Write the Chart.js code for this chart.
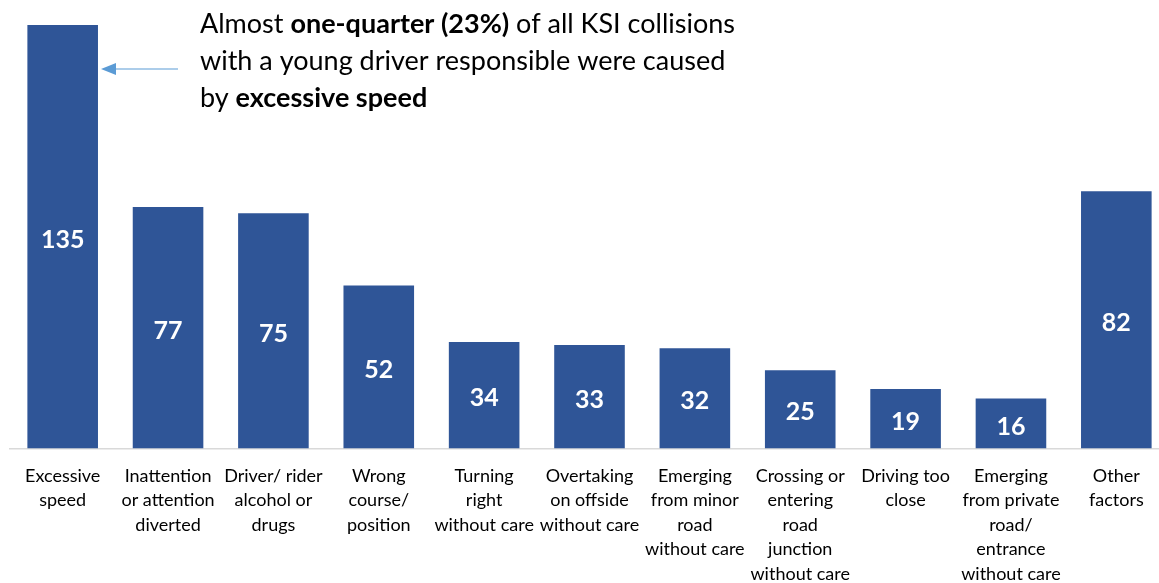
<!DOCTYPE html>
<html>
<head>
<meta charset="utf-8">
<script src="https://cdn.jsdelivr.net/npm/chart.js@4.4.1/dist/chart.umd.min.js"></script>
<style>
  html, body { margin: 0; padding: 0; background: #fff; overflow: hidden; }
  #wrap { width: 1170px; height: 593px; position: relative; }
</style>
</head>
<body>
<div id="wrap"><canvas id="chart"></canvas></div>
<script>
// Contributory factors for KSI collisions with a young driver responsible
const categories = [
  ['Excessive', 'speed'],
  ['Inattention', 'or attention', 'diverted'],
  ['Driver/ rider', 'alcohol or', 'drugs'],
  ['Wrong', 'course/', 'position'],
  ['Turning', 'right', 'without care'],
  ['Overtaking', 'on offside', 'without care'],
  ['Emerging', 'from minor', 'road', 'without care'],
  ['Crossing or', 'entering', 'road', 'junction', 'without care'],
  ['Driving too', 'close'],
  ['Emerging', 'from private', 'road/', 'entrance', 'without care'],
  ['Other', 'factors']
];
const collisions = [135, 77, 75, 52, 34, 33, 32, 25, 19, 16, 82];

const FONT = 'Lato, "Open Sans", sans-serif';
const BAR_COLOR = '#2f5597';

// white value labels centred inside each bar
const valueLabels = {
  id: 'valueLabels',
  afterDatasetsDraw(chart) {
    const ctx = chart.ctx;
    const meta = chart.getDatasetMeta(0);
    ctx.save();
    ctx.fillStyle = '#ffffff';
    ctx.font = 'bold 25px ' + FONT;
    ctx.textAlign = 'center';
    ctx.textBaseline = 'middle';
    meta.data.forEach((bar, i) => {
      const yMid = (bar.y + bar.base) / 2;
      ctx.fillText(String(collisions[i]), bar.x, yMid + 3);
    });
    ctx.restore();
  }
};

// callout text with arrow pointing at the tallest bar
const callout = {
  id: 'callout',
  afterDraw(chart) {
    const ctx = chart.ctx;
    const meta = chart.getDatasetMeta(0);
    const first = meta.data[0];
    const lines = [
      [['Almost ', false], ['one-quarter (23%)', true], [' of all KSI collisions', false]],
      [['with a young driver responsible were caused', false]],
      [['by ', false], ['excessive speed', true]]
    ];
    const x0 = 200, y0 = 24, lh = 37, size = 27;
    ctx.save();
    ctx.fillStyle = '#000000';
    ctx.textBaseline = 'middle';
    ctx.textAlign = 'left';
    lines.forEach((parts, li) => {
      let x = x0;
      parts.forEach(([txt, bold]) => {
        ctx.font = (bold ? 'bold ' : '') + size + 'px ' + FONT;
        ctx.fillText(txt, x, y0 + li * lh);
        x += ctx.measureText(txt).width;
      });
    });
    // arrow
    const tipX = first.x + first.width / 2 + 3;
    const ay = 69;
    ctx.strokeStyle = '#5b9bd5';
    ctx.fillStyle = '#5b9bd5';
    ctx.lineWidth = 1.2;
    ctx.beginPath();
    ctx.moveTo(178, ay);
    ctx.lineTo(tipX + 12, ay);
    ctx.stroke();
    ctx.beginPath();
    ctx.moveTo(tipX, ay);
    ctx.lineTo(tipX + 15, ay - 6);
    ctx.lineTo(tipX + 15, ay + 6);
    ctx.closePath();
    ctx.fill();
    ctx.restore();
  }
};

new Chart(document.getElementById('chart'), {
  type: 'bar',
  data: {
    labels: categories,
    datasets: [{
      data: collisions,
      backgroundColor: BAR_COLOR,
      borderWidth: 0,
      barPercentage: 0.67,
      categoryPercentage: 1.0
    }]
  },
  options: {
    responsive: true,
    maintainAspectRatio: false,
    animation: false,
    layout: { padding: { left: 10, right: 1, top: 0, bottom: 0 } },
    plugins: { legend: { display: false }, tooltip: { enabled: false } },
    scales: {
      x: {
        grid: { display: false },
        border: { display: true, color: '#d9d9d9', width: 1.5 },
        ticks: {
          color: '#000000',
          font: { family: FONT, size: 18, lineHeight: 1.36 },
          maxRotation: 0,
          minRotation: 0,
          autoSkip: false,
          padding: 7
        }
      },
      y: {
        display: false,
        min: 0,
        max: 143
      }
    }
  },
  plugins: [valueLabels, callout]
});
</script>
</body>
</html>
